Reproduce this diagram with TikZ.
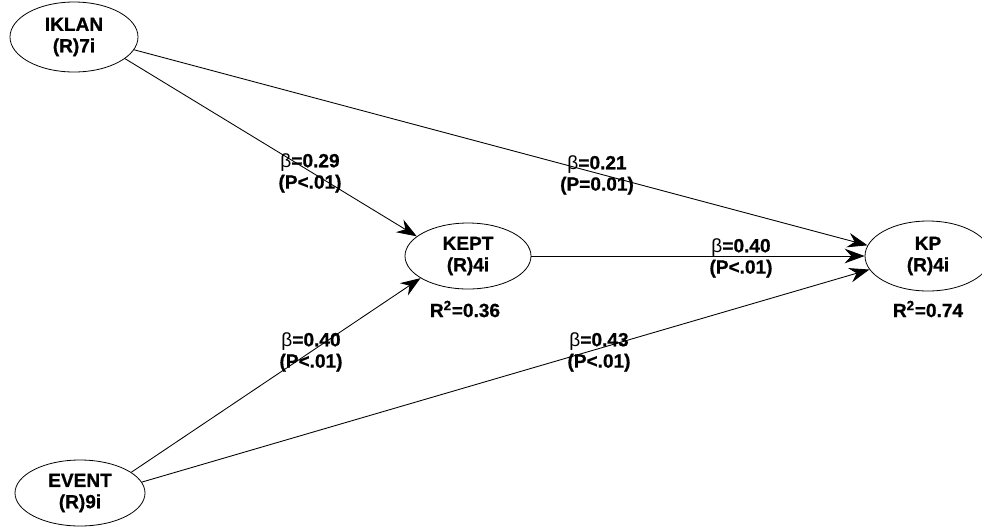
\documentclass[tikz,border=0pt]{standalone}
\usepackage{fontspec}
\setmainfont{Liberation Sans}
\newfontfamily\heavy[FakeBold=0.8]{Liberation Sans Bold}
\newcommand{\bet}{{\rmfamily\mdseries β}}
\usetikzlibrary{arrows.meta,shapes.geometric}
\begin{document}
\begin{tikzpicture}[x=0.75pt,y=-0.75pt,
  lv/.style={draw=black,ellipse,line width=0.6pt,inner sep=0pt,
    font=\heavy\fontsize{14.3}{16}\selectfont,align=center},
  txt/.style={font=\heavy\fontsize{14.3}{16}\selectfont,align=center,inner sep=0pt},
  path/.style={draw=black,line width=0.65pt,-{Stealth[length=15pt,width=11pt,inset=5pt]}}]
\useasboundingbox (0,0) rectangle (982,526);
% latent variables
\node[lv,minimum width=96pt,minimum height=52.5pt] (iklan) at (74,37) {IKLAN\\(R)7i};
\node[lv,minimum width=94.5pt,minimum height=49.5pt] (kept) at (468,256) {KEPT\\(R)4i};
\node[lv,minimum width=94.5pt,minimum height=52.5pt] (kp) at (928,256) {KP\\(R)4i};
\node[lv,minimum width=97.5pt,minimum height=49.5pt] (event) at (80,493) {EVENT\\(R)9i};
% paths
\draw[path] (iklan.-23) -- (kept.159);
\draw[path] (iklan.-12) -- (kp.170);
\draw[path] (kept.east) -- (kp.west);
\draw[path] (event.22) -- (kept.205);
\draw[path] (event.10) -- (kp.193);
% labels
\node[txt] (l1) at (310,173) {\bet=0.29\\(P<.01)};
\node[txt] (l2) at (597,175) {\bet=0.21\\(P=0.01)};
\node[txt] (l3) at (741,258) {\bet=0.40\\(P<.01)};
\node[txt] (l4) at (311,352) {\bet=0.40\\(P<.01)};
\node[txt] (l5) at (599,352) {\bet=0.43\\(P<.01)};
\node[txt] (r1) at (465,309) {R\textsuperscript{2}=0.36};
\node[txt] (r2) at (928,309) {R\textsuperscript{2}=0.74};
\end{tikzpicture}
\end{document}
